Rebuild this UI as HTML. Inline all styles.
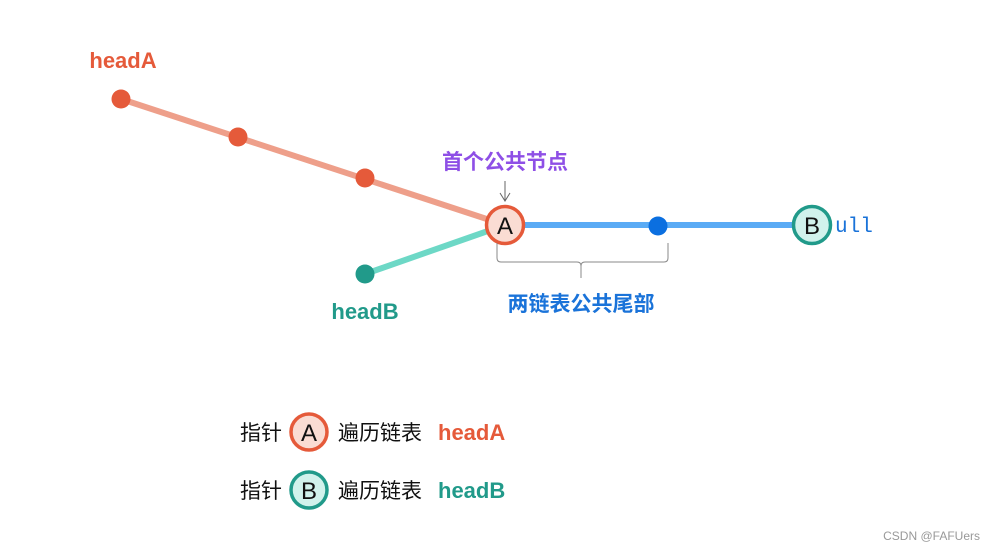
<!DOCTYPE html>
<html><head><meta charset="utf-8"><style>
html,body{margin:0;padding:0;background:#fff;}
svg{display:block;}
text{font-family:"Liberation Sans","Noto Sans CJK SC",sans-serif;}
text.mono{font-family:"Liberation Mono","DejaVu Sans Mono",monospace;}
</style></head><body>
<svg width="995" height="550" viewBox="0 0 995 550" xmlns="http://www.w3.org/2000/svg">
<line x1="121" y1="99" x2="505" y2="225" stroke="#ee9f8a" stroke-width="6"/>
<line x1="365" y1="274" x2="505" y2="225" stroke="#6dd8c6" stroke-width="6"/>
<line x1="505" y1="225" x2="812" y2="225" stroke="#5aabf5" stroke-width="6"/>
<circle cx="121" cy="99" r="9.5" fill="#e55a3a"/>
<circle cx="238" cy="137" r="9.5" fill="#e55a3a"/>
<circle cx="365" cy="178" r="9.5" fill="#e55a3a"/>
<circle cx="365" cy="274" r="9.5" fill="#219a8a"/>
<circle cx="658" cy="226" r="9.5" fill="#0b6fe0"/>
<circle cx="505" cy="225" r="18.5" fill="#fadcd3" stroke="#e55a3a" stroke-width="3.5"/>
<text x="505" y="234" font-size="24" text-anchor="middle" fill="#111">A</text>
<circle cx="812" cy="225" r="18.5" fill="#d1f2ec" stroke="#219a8a" stroke-width="3.5"/>
<text x="812" y="234" font-size="24" text-anchor="middle" fill="#111">B</text>
<text class="mono" x="835" y="232" font-size="21" fill="#1a73d9">ull</text>
<text x="123" y="68" font-size="22" font-weight="bold" fill="#e55a3a" text-anchor="middle">headA</text>
<text x="365" y="319" font-size="22" font-weight="bold" fill="#219a8a" text-anchor="middle">headB</text>
<text x="505" y="169" font-size="21" font-weight="bold" fill="#8e4fe6" text-anchor="middle">首个公共节点</text>
<line x1="505" y1="181" x2="505" y2="201" stroke="#666" stroke-width="1"/>
<polyline points="500,193 505,201 510,193" fill="none" stroke="#666" stroke-width="1"/>
<path d="M497,243 v15 q0,4 4,4 h76 q4,0 4,4 v12 M581,266 q0,-4 4,-4 h79 q4,0 4,-4 v-15" fill="none" stroke="#888" stroke-width="1"/>
<text x="581" y="311" font-size="21" font-weight="bold" fill="#1a73d9" text-anchor="middle">两链表公共尾部</text>
<text x="240" y="440" font-size="21" fill="#111">指针</text>
<circle cx="309" cy="432" r="18" fill="#fadcd3" stroke="#e55a3a" stroke-width="3.5"/>
<text x="309" y="441" font-size="24" text-anchor="middle" fill="#111">A</text>
<text x="338" y="440" font-size="21" fill="#111">遍历链表</text>
<text x="438" y="440" font-size="22" font-weight="bold" fill="#e55a3a">headA</text>
<text x="240" y="498" font-size="21" fill="#111">指针</text>
<circle cx="309" cy="490" r="18" fill="#d1f2ec" stroke="#219a8a" stroke-width="3.5"/>
<text x="309" y="499" font-size="24" text-anchor="middle" fill="#111">B</text>
<text x="338" y="498" font-size="21" fill="#111">遍历链表</text>
<text x="438" y="498" font-size="22" font-weight="bold" fill="#219a8a">headB</text>
<text x="980" y="540" font-size="12" fill="#999" text-anchor="end">CSDN @FAFUers</text>
</svg>
</body></html>
